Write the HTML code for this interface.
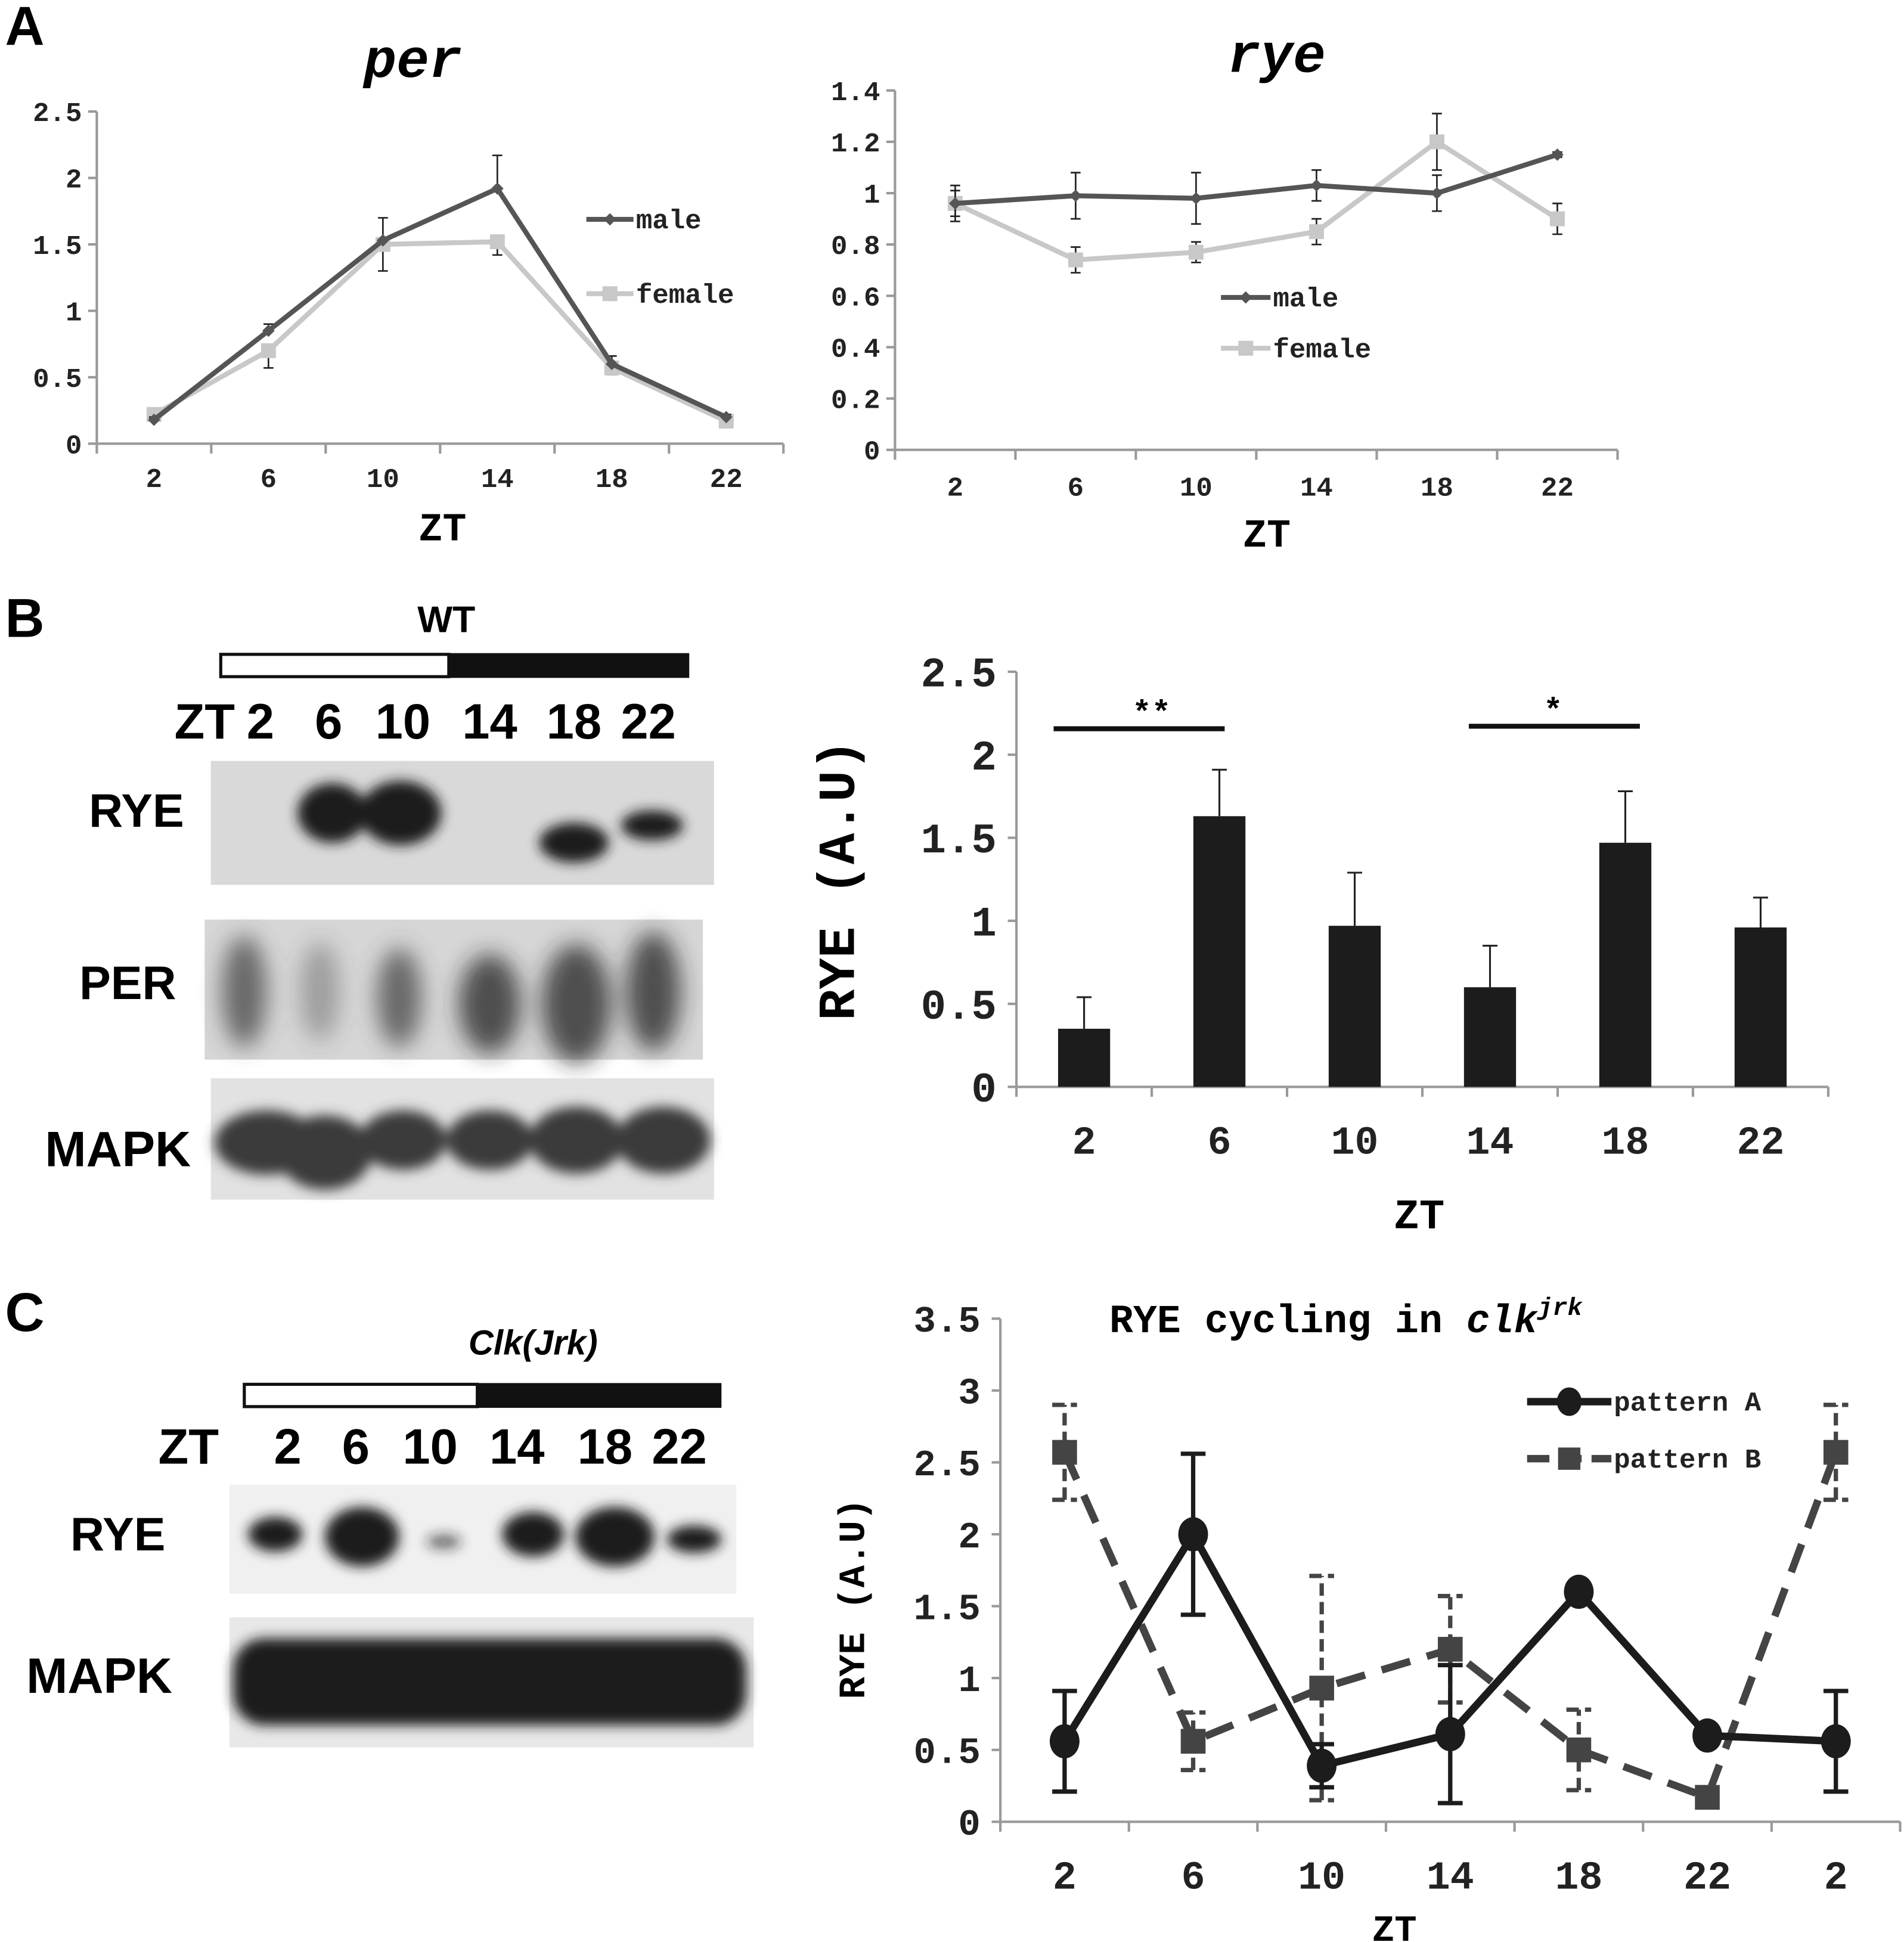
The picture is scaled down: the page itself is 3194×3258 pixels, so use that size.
<!DOCTYPE html>
<html><head><meta charset="utf-8"><style>
html,body{margin:0;padding:0;background:#fff}
svg{display:block}
.m{font-family:"Liberation Mono",monospace;font-weight:bold}
.s{font-family:"Liberation Sans Narrow","Liberation Sans",sans-serif;font-weight:bold}
</style></head><body>
<svg id="fig" xmlns="http://www.w3.org/2000/svg" width="3194" height="3258" viewBox="0 0 1536 1567">
<defs>
<filter id="bl" x="-50%" y="-50%" width="200%" height="200%"><feGaussianBlur stdDeviation="9"/></filter>
<filter id="bl2" x="-50%" y="-50%" width="200%" height="200%"><feGaussianBlur stdDeviation="5"/></filter>
</defs>
<text x="4" y="36" class="s" font-size="44">A</text>
<text x="4" y="514" class="s" font-size="44">B</text>
<text x="4" y="1074" class="s" font-size="44">C</text>

<g>
<text x="360" y="510" class="s" font-size="30" text-anchor="middle">WT</text>
<rect x="178" y="528" width="184" height="18" fill="#fff" stroke="#111" stroke-width="2.5"/>
<rect x="362" y="527" width="194" height="20" fill="#111"/>
<g class="s" font-size="40" text-anchor="middle">
<text x="165" y="596">ZT</text><text x="210" y="596">2</text><text x="265" y="596">6</text><text x="325" y="596">10</text><text x="395" y="596">14</text><text x="463" y="596">18</text><text x="523" y="596">22</text></g>
<text x="110" y="667" class="s" font-size="38" text-anchor="middle">RYE</text>
<text x="103" y="806" class="s" font-size="38" text-anchor="middle">PER</text>
<text x="95" y="941" class="s" font-size="40" text-anchor="middle">MAPK</text>
<rect x="170" y="614" width="406" height="100" fill="#d9d9d9"/>
<g fill="#1a1a1a" filter="url(#bl2)">
<ellipse cx="268" cy="656" rx="28" ry="24"/><ellipse cx="323" cy="656" rx="33" ry="26"/>
<ellipse cx="463" cy="680" rx="28" ry="16"/><ellipse cx="526" cy="666" rx="25" ry="12"/></g>
<rect x="165" y="742" width="402" height="113" fill="#d6d6d6"/>
<g fill="#444" filter="url(#bl)" opacity="0.75">
<ellipse cx="197" cy="800" rx="18" ry="45"/><ellipse cx="258" cy="800" rx="16" ry="40" opacity=".5"/><ellipse cx="322" cy="805" rx="18" ry="40"/>
<ellipse cx="395" cy="810" rx="25" ry="40" fill="#222"/><ellipse cx="465" cy="810" rx="28" ry="48" fill="#222"/><ellipse cx="527" cy="800" rx="22" ry="48" fill="#222"/></g>
<rect x="170" y="870" width="406" height="98" fill="#e2e2e2"/>
<g fill="#3a3a3a" filter="url(#bl2)">
<ellipse cx="215" cy="922" rx="42" ry="26"/><ellipse cx="262" cy="930" rx="38" ry="30"/><ellipse cx="325" cy="920" rx="35" ry="24"/>
<ellipse cx="395" cy="920" rx="35" ry="24"/><ellipse cx="465" cy="920" rx="38" ry="27"/><ellipse cx="535" cy="920" rx="38" ry="27"/></g>
</g>

<g>
<text x="430" y="1093" class="s" font-size="28" font-style="italic" text-anchor="middle">Clk(Jrk)</text>
<rect x="197" y="1117" width="188" height="18" fill="#fff" stroke="#111" stroke-width="2.5"/>
<rect x="385" y="1116" width="197" height="20" fill="#111"/>
<g class="s" font-size="40" text-anchor="middle">
<text x="152" y="1181">ZT</text><text x="232" y="1181">2</text><text x="287" y="1181">6</text><text x="347" y="1181">10</text><text x="417" y="1181">14</text><text x="488" y="1181">18</text><text x="548" y="1181">22</text></g>
<text x="95" y="1251" class="s" font-size="38" text-anchor="middle">RYE</text>
<text x="80" y="1366" class="s" font-size="40" text-anchor="middle">MAPK</text>
<rect x="185" y="1198" width="409" height="88" fill="#f0f0f0"/>
<g fill="#1a1a1a" filter="url(#bl2)">
<ellipse cx="222" cy="1238" rx="22" ry="14"/><ellipse cx="292" cy="1240" rx="30" ry="24"/><ellipse cx="358" cy="1244" rx="14" ry="6" opacity=".6"/>
<ellipse cx="430" cy="1238" rx="25" ry="18"/><ellipse cx="496" cy="1240" rx="32" ry="24"/><ellipse cx="560" cy="1242" rx="22" ry="11"/></g>
<rect x="185" y="1305" width="423" height="105" fill="#e8e8e8"/>
<rect x="188" y="1322" width="414" height="70" rx="25" fill="#1c1c1c" filter="url(#bl2)"/>
</g>
<g id="charts"></g>
</svg>
<script>
const perCats = ["2","6","10","14","18","22"];
const perMale = [0.18,0.85,1.53,1.92,0.6,0.2];
const perMaleErr = [0.02,0.05,0.17,0.25,0.06,0.02];
const perFemale = [0.22,0.7,1.5,1.52,0.57,0.17];
const perFemaleErr = [0.03,0.13,0.2,0.1,0.05,0.02];
const perTicks = ["0","0.5","1","1.5","2","2.5"];

const ryeCats = ["2","6","10","14","18","22"];
const ryeMale = [0.96,0.99,0.98,1.03,1.0,1.15];
const ryeMaleErr = [0.07,0.09,0.1,0.06,0.07,0.01];
const ryeFemale = [0.96,0.74,0.77,0.85,1.2,0.9];
const ryeFemaleErr = [0.05,0.05,0.04,0.05,0.11,0.06];
const ryeTicks = ["0","0.2","0.4","0.6","0.8","1","1.2","1.4"];

const barCats = ["2","6","10","14","18","22"];
const barVals = [0.35,1.63,0.97,0.6,1.47,0.96];
const barErr = [0.19,0.28,0.32,0.25,0.31,0.18];
const barTicks = ["0","0.5","1","1.5","2","2.5"];

const clkCats = ["2","6","10","14","18","22","2"];
const patA = [0.56,2.0,0.39,0.61,1.6,0.6,0.56];
const patAErr = [0.35,0.56,0.15,0.48,0,0,0.35];
const patB = [2.57,0.56,0.93,1.2,0.5,0.17,2.57];
const patBErr = [0.33,0.2,0.78,0.37,0.28,0,0.33];
const clkTicks = ["0","0.5","1","1.5","2","2.5","3","3.5"];

const NS="http://www.w3.org/2000/svg";
const root=document.getElementById('charts');
function mk(tag,a,p){const e=document.createElementNS(NS,tag);for(const k in a)e.setAttribute(k,a[k]);(p||root).appendChild(e);return e;}
function txt(s,a,p){const e=mk('text',a,p);e.textContent=s;return e;}

function axes(g,cfg){
  let el=mk('line',{x1:cfg.x0,y1:cfg.yTop,x2:cfg.x0,y2:cfg.y0,stroke:'#999','stroke-width':2},g);
  
  
  el=mk('line',{x1:cfg.x0,y1:cfg.y0,x2:cfg.x1,y2:cfg.y0,stroke:'#999','stroke-width':2},g);
  
  
  cfg.ticks.forEach((t,i)=>{
    const y=cfg.Y(parseFloat(t));
    mk('line',{x1:cfg.x0-7,y1:y,x2:cfg.x0,y2:y,stroke:'#999','stroke-width':2},g);
    const l=txt(t,{x:cfg.x0-cfg.lpad,y:y+cfg.fs*0.35,'text-anchor':'end','font-size':cfg.fs,class:'m',fill:'#222'},g);
    
    
  });
  const n=cfg.cats.length, w=(cfg.x1-cfg.x0)/n;
  for(let i=0;i<=n;i++){mk('line',{x1:cfg.x0+i*w,y1:cfg.y0,x2:cfg.x0+i*w,y2:cfg.y0+8,stroke:'#999','stroke-width':2},g);}
  cfg.cats.forEach((c,i)=>{
    const l=txt(c,{x:cfg.X(i),y:cfg.xly,'text-anchor':'middle','font-size':cfg.xfs,class:'m',fill:'#222'},g);
    
    
  });
}
function mkcfg(x0,x1,y0,yTop,max,cats,ticks,fs,xfs,xly,lpad){
  const n=cats.length,w=(x1-x0)/n;
  return {x0,x1,y0,yTop,cats,ticks,fs,xfs,xly,lpad,X:i=>x0+w*(i+0.5),Y:v=>y0-(y0-yTop)*v/max};
}
function series(g,cfg,vals,errs,color,width,marker,dash,name,errDir,errStyle){
  const pts=vals.map((v,i)=>cfg.X(i)+','+cfg.Y(v)).join(' ');
  const sw=errStyle.sw, cw=errStyle.cw, ec=errStyle.c||color;
  vals.forEach((v,i)=>{
    if(!errs[i])return;
    const x=cfg.X(i);
    const y1=errDir==='up'?cfg.Y(v):cfg.Y(v-errs[i]), y2=errDir==='down'?cfg.Y(v):cfg.Y(v+errs[i]);
    let d=`M${x},${y1}V${y2}`;
    if(errDir!=='up')d+=`M${x-cw},${y1}h${2*cw}`;
    if(errDir!=='down')d+=`M${x-cw},${y2}h${2*cw}`;
    const e=mk('path',{d:d,stroke:ec,'stroke-width':sw,fill:'none','stroke-dasharray':dash?'10,5':'none'},g);
    
    
  });
  const l=mk('polyline',{points:pts,fill:'none',stroke:color,'stroke-width':width,'stroke-dasharray':dash||'none','stroke-linejoin':'round'},g);
  
  
  vals.forEach((v,i)=>{const x=cfg.X(i),y=cfg.Y(v);let m;
    if(marker.t==='d')m=mk('path',{d:`M${x},${y-marker.r}L${x+marker.r},${y}L${x},${y+marker.r}L${x-marker.r},${y}Z`,fill:color},g);
    else if(marker.t==='s')m=mk('rect',{x:x-marker.r,y:y-marker.r,width:2*marker.r,height:2*marker.r,fill:color},g);
    else m=mk('ellipse',{cx:x,cy:y,rx:marker.r,ry:marker.r*1.15,fill:color},g);
    
    
  });
}
function legend(g,x,y,len,color,width,marker,dash,label,fs){
  const l=mk('line',{x1:x,y1:y,x2:x+len,y2:y,stroke:color,'stroke-width':width,'stroke-dasharray':dash||'none'},g);
  
  
  const cx=x+len/2;let m;
  if(marker.t==='d')m=mk('path',{d:`M${cx},${y-marker.r}L${cx+marker.r},${y}L${cx},${y+marker.r}L${cx-marker.r},${y}Z`,fill:color},g);
  else if(marker.t==='s')m=mk('rect',{x:cx-marker.r,y:y-marker.r,width:2*marker.r,height:2*marker.r,fill:color},g);
  else m=mk('ellipse',{cx:cx,cy:y,rx:marker.r,ry:marker.r*1.15,fill:color},g);
  
  
  const t=txt(label,{x:x+len+2,y:y+fs*0.33,'font-size':fs,class:'m',fill:'#222'},g);
  
  
}
const DK='#555', LT='#c8c8c8';
const thin={sw:1.3,cw:4,c:'#222'};
const thick={sw:3.5,cw:10};

let g=mk('g',{});


let c=mkcfg(78,632,358,90,2.5,perCats,perTicks,22,22,393,12);
axes(g,c);
let t=txt('per',{x:333,y:62,'text-anchor':'middle','font-size':44,class:'m','font-style':'italic'},g);


t=txt('ZT',{x:357,y:436,'text-anchor':'middle','font-size':32,class:'m'},g);


series(g,c,perFemale,perFemaleErr,LT,4,{t:'s',r:6},null,'per-female','down',thin);
series(g,c,perMale,perMaleErr,DK,4,{t:'d',r:5},null,'per-male','up',thin);
legend(g,473,177,38,DK,4,{t:'d',r:5},null,'male',22);
legend(g,473,237,38,LT,4,{t:'s',r:6},null,'female',22);

g=mk('g',{});


c=mkcfg(722,1305,363,73,1.4,ryeCats,ryeTicks,22,22,400,12);
axes(g,c);
t=txt('rye',{x:1030,y:58,'text-anchor':'middle','font-size':44,class:'m','font-style':'italic'},g);


t=txt('ZT',{x:1022,y:441,'text-anchor':'middle','font-size':32,class:'m'},g);


series(g,c,ryeFemale,ryeFemaleErr,LT,4,{t:'s',r:6},null,'rye-female','both',thin);
series(g,c,ryeMale,ryeMaleErr,DK,4,{t:'d',r:5},null,'rye-male','both',thin);
legend(g,985,240,40,DK,4,{t:'d',r:5},null,'male',22);
legend(g,985,281,40,LT,4,{t:'s',r:6},null,'female',22);

g=mk('g',{});


c=mkcfg(820,1475,877,542,2.5,barCats,barTicks,34,32,931,16);
axes(g,c);
barVals.forEach((v,i)=>{
  const x=c.X(i);
  const e=mk('path',{d:`M${x},${c.Y(v)}V${c.Y(v+barErr[i])}M${x-6},${c.Y(v+barErr[i])}h12`,stroke:'#222','stroke-width':1.5,fill:'none'},g);
  
  
  const b=mk('rect',{x:x-21,y:c.Y(v),width:42,height:c.y0-c.Y(v),fill:'#1c1c1c'},g);
  
  
});
t=txt('RYE (A.U)',{x:0,y:0,'text-anchor':'middle','font-size':42,class:'m',transform:'translate(689,710) rotate(-90)','xml:space':'preserve'},g);


t=txt('ZT',{x:1145,y:991,'text-anchor':'middle','font-size':34,class:'m'},g);


let s=mk('line',{x1:850,y1:588,x2:988,y2:588,stroke:'#111','stroke-width':4},g);


s=mk('line',{x1:1185,y1:586,x2:1323,y2:586,stroke:'#111','stroke-width':4},g);


t=txt('**',{x:929,y:583,'text-anchor':'middle','font-size':26,class:'m'},g);


t=txt('*',{x:1253,y:581,'text-anchor':'middle','font-size':26,class:'m'},g);



g=mk('g',{});


c=mkcfg(807,1533,1470,1064,3.5,clkCats,clkTicks,30,32,1524,16);
axes(g,c);
t=txt('RYE cycling in ',{x:895,y:1075,'font-size':32,class:'m'},g);


const ti=mk('tspan',{'font-style':'italic'},t);ti.textContent='clk';
const ts=mk('tspan',{'font-style':'italic','font-size':20,dy:-14},t);ts.textContent='jrk';
t=txt('RYE (A.U)',{x:0,y:0,'text-anchor':'middle','font-size':30,class:'m',transform:'translate(697,1290) rotate(-90)','xml:space':'preserve'},g);


t=txt('ZT',{x:1125,y:1566,'text-anchor':'middle','font-size':30,class:'m'},g);


series(g,c,patB,patBErr,'#444',6,{t:'s',r:10},'24,14','pattern-b','both',thick);
series(g,c,patA,patAErr,'#1c1c1c',6,{t:'c',r:12},null,'pattern-a','both',thick);
legend(g,1232,1131,68,'#1c1c1c',6,{t:'c',r:10},null,'pattern A',22);
legend(g,1232,1177,68,'#444',6,{t:'s',r:9},'18,8','pattern B',22);
</script>
</body></html>
